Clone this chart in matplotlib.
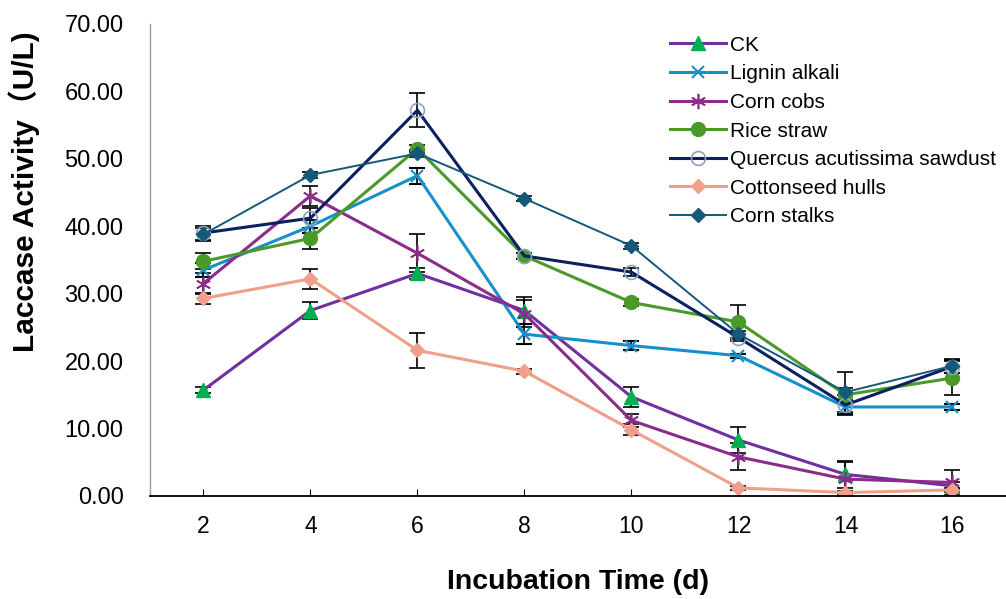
import matplotlib
matplotlib.use("Agg")
import matplotlib.pyplot as plt
from matplotlib.lines import Line2D

plt.rcParams['font.family'] = ['Liberation Sans', 'Noto Sans CJK SC', 'DejaVu Sans']

days = [2, 4, 6, 8, 10, 12, 14, 16]

ck = [15.7, 27.5, 33.0, 27.5, 14.7, 8.3, 3.2, 1.5]
ck_err = [0.5, 1.2, 0.8, 2.0, 1.5, 2.0, 2.0, 0.5]
lignin = [33.5, 40.0, 47.5, 24.0, 22.3, 20.8, 13.2, 13.2]
lignin_err = [1.0, 1.0, 1.2, 1.5, 0.7, 0.3, 1.0, 0.5]
cobs = [31.5, 44.5, 36.0, 27.0, 11.2, 5.8, 2.5, 2.0]
cobs_err = [1.5, 1.5, 2.8, 2.0, 1.0, 2.0, 2.5, 1.8]
rice = [34.8, 38.2, 51.5, 35.6, 28.7, 25.8, 15.0, 17.5]
rice_err = [1.2, 1.5, 0.5, 0.5, 0.5, 2.5, 1.0, 2.5]
quercus = [39.0, 41.2, 57.2, 35.6, 33.2, 23.5, 13.5, 19.2]
quercus_err = [1.0, 1.5, 2.5, 0.5, 0.6, 0.5, 1.5, 1.0]
cotton = [29.3, 32.2, 21.6, 18.5, 9.8, 1.2, 0.5, 0.9]
cotton_err = [0.8, 1.5, 2.6, 0.4, 0.8, 0.3, 0.3, 0.3]
stalks = [38.8, 47.6, 50.8, 44.1, 37.1, 24.0, 15.4, 19.3]
stalks_err = [1.0, 0.5, 0.5, 0.4, 0.4, 0.5, 3.0, 1.0]

names = ["CK", "Lignin alkali", "Corn cobs", "Rice straw",
         "Quercus acutissima sawdust", "Cottonseed hulls", "Corn stalks"]

fig = plt.figure(figsize=(10.06, 5.99), dpi=100)
ax = fig.add_axes([0.149, 0.172, 0.851, 0.788])

styles = [
    dict(color='#7030A0', marker='^', mfc='#00B050', mec='#00B050', ms=10, lw=2.2),
    dict(color='#1690C8', marker='x', mfc='#1690C8', mec='#1690C8', ms=9, mew=1.5, lw=2.2),
    dict(color='#8B2C8B', marker=(6, 2, 0), mfc='#8B2C8B', mec='#8B2C8B', ms=11, mew=1.2, lw=2.2),
    dict(color='#4A9A2A', marker='o', mfc='#4A9A2A', mec='#4A9A2A', ms=10, lw=2.2),
    dict(color='#0A2060', marker='o', mfc='none', mec='#8FA3BF', ms=10, mew=1.2, lw=2.2),
    dict(color='#F0A08A', marker='D', mfc='#F0A08A', mec='#F0A08A', ms=7, lw=2.2),
    dict(color='#14587A', marker='D', mfc='#14587A', mec='#14587A', ms=7, lw=1.4),
]
series = [(ck, ck_err), (lignin, lignin_err), (cobs, cobs_err), (rice, rice_err),
          (quercus, quercus_err), (cotton, cotton_err), (stalks, stalks_err)]

handles = []
for (vals, errs), name, st in zip(series, names, styles):
    ax.errorbar(days, vals, yerr=errs, ecolor='black', elinewidth=1.2,
                capsize=6, capthick=1.2, **st)
    handles.append(Line2D([], [], label=name, **st))

ax.set_xlim(1, 17)
ax.set_ylim(0, 70)
ax.set_xticks(days)
ax.set_yticks(range(0, 71, 10))
ax.set_yticklabels([f"{v:.2f}" for v in range(0, 71, 10)])
ax.tick_params(axis='x', direction='in', length=5, labelsize=16.5, pad=14)
ax.tick_params(axis='y', length=0, labelsize=17, pad=19)
for s in ['top', 'right']:
    ax.spines[s].set_visible(False)
ax.spines['left'].set_linewidth(1.0)
ax.spines['left'].set_color('#9A9A9A')
ax.spines['bottom'].set_linewidth(1.3)

ax.set_ylabel("Laccase Activity（U/L)", fontsize=21.5, fontweight='bold')
ax.yaxis.set_label_coords(-0.128, 0.645)
ax.set_xlabel("Incubation Time (d)", fontsize=20.5, fontweight='bold', labelpad=22)

ax.legend(handles=handles, loc='upper left', bbox_to_anchor=(0.607, 0.975),
          frameon=False, fontsize=15, handlelength=2.7, labelspacing=0.46,
          handletextpad=0.2, borderpad=0, borderaxespad=0)

fig.savefig("out.png", dpi=100)
